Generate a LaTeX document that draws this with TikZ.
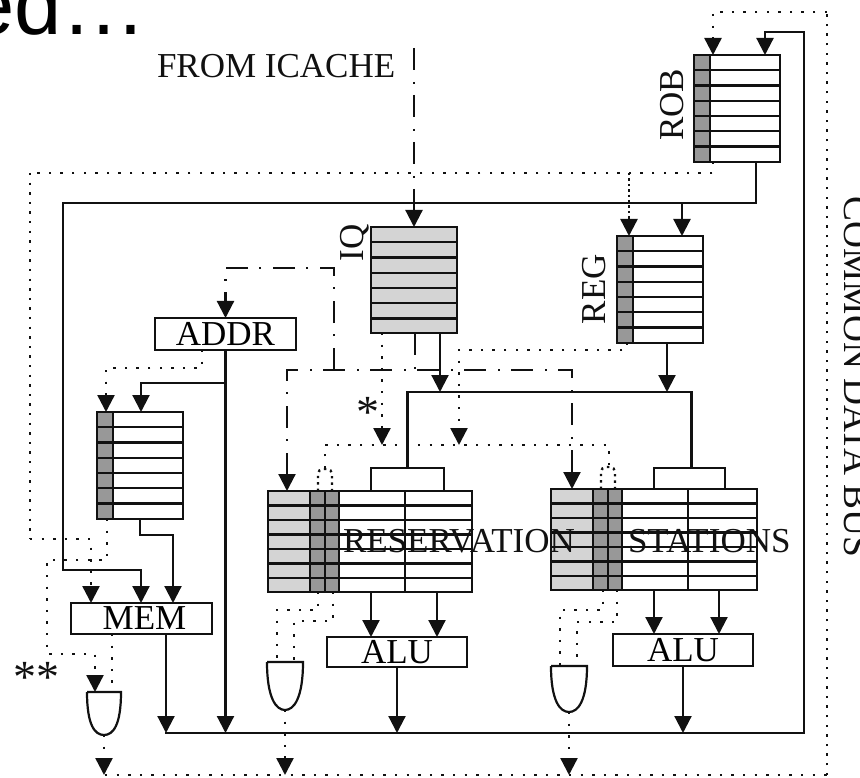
\documentclass[tikz,border=0pt]{standalone}
\usepackage{fontspec}
\setmainfont{Liberation Serif}
\newfontfamily\headfont{Liberation Sans}
\usepackage{xcolor}
\usetikzlibrary{arrows.meta,positioning,calc}
\definecolor{Ink}{HTML}{111111}
\definecolor{QueueGrey}{HTML}{D4D4D4}
\definecolor{TagGrey}{HTML}{989898}
\tikzset{
  unit/.style={draw=Ink,line width=2.2pt,fill=white,inner sep=0pt,outer sep=0pt},
  caption/.style={inner sep=0pt,outer sep=0pt,text=Ink,font=\fontsize{35}{40}\selectfont},
  gatebody/.style={inner sep=0pt,outer sep=0pt},
  wire/.style={Ink,line width=2.2pt},
  flow/.style={wire,->},
  dots/.style={Ink,line width=2.4pt,dash pattern=on 2.4pt off 9.2pt},
  tightdots/.style={Ink,line width=2.4pt,dash pattern=on 2.4pt off 7.2pt},
  dotflow/.style={dots,->},
  fetch/.style={Ink,line width=2.2pt,dash pattern=on 22pt off 12pt on 2pt off 11pt},
  fetchflow/.style={fetch,->},
}
\begin{document}
\begin{tikzpicture}[x=1pt,y=-1pt,>={Triangle[width=17pt,length=17pt]}]
  \useasboundingbox (0,0) rectangle (860,778);
  \node[anchor=base east,inner sep=0pt,font=\headfont\fontsize{85}{90}\selectfont] (heading) at (147,35) {ed…};

  % Registerblocks
  \node[unit,minimum width=86pt,minimum height=107pt] (rob) at (737,108.5) {};
  \node[unit,minimum width=86pt,minimum height=107pt] (reg) at (660,289.5) {};
  \node[unit,minimum width=86pt,minimum height=107pt] (membuf) at (140,465.5) {};
  \node[unit,fill=QueueGrey,minimum width=86pt,minimum height=106pt] (iq) at (414,280) {};
  \foreach \n in {rob,reg,membuf}
    \draw[unit,fill=TagGrey] (\n.north west) rectangle ($(\n.south west)+(16,0)$);
  \foreach \n in {rob,reg,membuf,iq}
    \foreach \i in {1,...,6}
      \draw[wire] ($(\n.north west)+(0,\i*15.25)$) -- ($(\n.north east)+(0,\i*15.25)$);

  \node[unit,minimum width=141pt,minimum height=32pt,font=\fontsize{35}{40}\selectfont] (addr) at (225.5,334) {ADDR};
  \node[unit,minimum width=141pt,minimum height=31pt,font=\fontsize{35}{40}\selectfont] (mem) at (141.5,618.5) {\hspace{6pt}MEM};

  % Reservierungsstationen
  \node[unit,minimum width=73pt,minimum height=23pt] (stuba) at (407.5,479.5) {};
  \node[unit,minimum width=71pt,minimum height=21pt] (stubb) at (689.5,478.5) {};
  \node[unit,minimum width=204pt,minimum height=101pt] (rsa) at (370,541.5) {};
  \node[unit,minimum width=206pt,minimum height=101pt] (rsb) at (654,539.5) {};
  \foreach \r in {rsa,rsb}{
    \draw[unit,fill=QueueGrey] (\r.north west) rectangle ($(\r.south west)+(42,0)$);
    \draw[unit,fill=TagGrey] ($(\r.north west)+(42,0)$) rectangle ($(\r.south west)+(57,0)$);
    \draw[unit,fill=TagGrey] ($(\r.north west)+(57,0)$) rectangle ($(\r.south west)+(71,0)$);
    \draw[wire] ($(\r.north west)+(137,0)$) -- ($(\r.south west)+(137,0)$);
    \foreach \i in {1,...,6}
      \draw[wire] ($(\r.north west)+(0,\i*14.5)$) -- ($(\r.north east)+(0,\i*14.5)$);
  }

  \node[unit,minimum width=140pt,minimum height=30pt,font=\fontsize{35}{40}\selectfont] (alua) at (397,652) {ALU};
  \node[unit,minimum width=140pt,minimum height=32pt,font=\fontsize{35}{40}\selectfont] (alub) at (683,650) {ALU};

  % Gatter
  \node[gatebody,minimum width=34pt,minimum height=43pt] (gatem) at (104,713.5) {};
  \node[gatebody,minimum width=36pt,minimum height=48pt] (gatea) at (285,686) {};
  \node[gatebody,minimum width=36pt,minimum height=46pt] (gateb) at (569,689) {};
  \foreach \g in {gatem,gatea,gateb}
    \draw[wire] (\g.north west) -- (\g.north east)
      .. controls ($(\g.east)+(0,12)$) and ($(\g.south)+(9,0)$) .. (\g.south)
      .. controls ($(\g.south)+(-9,0)$) and ($(\g.west)+(0,12)$) .. (\g.north west);

  % Sammelleitungen
  \coordinate (icache) at (414,48);
  \coordinate (decbus) at (430,370);
  \coordinate (addrbend) at (334,268);
  \coordinate (opbus) at (554,392);
  \coordinate (tagbus) at (460,445);
  \coordinate (resW) at (63,203);
  \coordinate (resS) at (63,570);
  \coordinate (cdbL) at (165,733);
  \coordinate (cdbR) at (804,733);
  \coordinate (cdbT) at (765,32);
  \coordinate (tagW) at (30,173);
  \coordinate (tagS) at (30,539);
  \coordinate (spW) at (47,560);
  \coordinate (spS) at (47,654);
  \coordinate (ringW) at (105,775);
  \coordinate (ringE) at (827,775);
  \coordinate (ringN) at (827,12);
  \coordinate (regdrop) at (459,350);

  \coordinate (robout) at ($(rob.south west)+(62,0)$);
  \coordinate (robin) at ($(rob.north west)+(71,0)$);
  \coordinate (robtagin) at ($(rob.north west)+(19,0)$);
  \coordinate (robtagout) at ($(rob.south west)+(19,0)$);
  \coordinate (regin) at ($(reg.north west)+(65,0)$);
  \coordinate (regout) at ($(reg.south west)+(50,0)$);
  \coordinate (regtagin) at ($(reg.north west)+(12,0)$);
  \coordinate (regtagout) at ($(reg.south west)+(10,0)$);
  \coordinate (iqout) at ($(iq.south west)+(69,0)$);
  \coordinate (iqdec) at ($(iq.south west)+(44,0)$);
  \coordinate (iqtag) at ($(iq.south west)+(11,0)$);
  \coordinate (memout) at ($(mem.south west)+(95,0)$);
  \coordinate (rsaop) at ($(rsa.north west)+(19,0)$);
  \coordinate (rsbop) at ($(rsb.north west)+(21,0)$);
  \coordinate (tagA) at ($(rsa.north west)+(57,-23)$);
  \coordinate (tagB) at ($(rsb.north west)+(58,-21)$);

  % Befehlspfad
  \draw[fetchflow] (icache) -- (iq.north);
  \draw[fetch] (iqdec) -- (iqdec |- decbus);
  \draw[fetch,<->] (rsaop) |- (decbus) -| (rsbop);
  \draw[fetchflow] (addrbend |- decbus) -- (addrbend) -| (addr.north);

  % Datenpfad
  \draw[wire] (stuba.north) |- (opbus) -| ($(stubb.north)+(2,0)$);
  \draw[flow] (iqout) -- (iqout |- opbus);
  \draw[flow] (regout) -- (regout |- opbus);
  \draw[flow] (robout) |- (resW) -- (resS) -| ($(mem.north west)+(70,0)$);
  \draw[flow] (regin |- resW) -- (regin);
  \draw[flow] (cdbL) -- (cdbR) |- (cdbT) -- (robin);
  \draw[flow] (addr.south) -- (addr.south |- cdbL);
  \draw[flow] ($(addr.south)+(0,33)$) -| ($(membuf.north)+(1,0)$);
  \draw[flow] (membuf.south) -- ++(0,16) -| ($(mem.north west)+(102,0)$);
  \draw[flow] (memout) -- (memout |- cdbL);
  \draw[flow] ($(rsa.south west)+(103,0)$) -- ($(alua.north west)+(44,0)$);
  \draw[flow] ($(rsa.south west)+(169,0)$) -- ($(alua.north west)+(110,0)$);
  \draw[flow] ($(rsb.south west)+(103,0)$) -- ($(alub.north west)+(41,0)$);
  \draw[flow] ($(rsb.south west)+(168,0)$) -- ($(alub.north west)+(106,0)$);
  \draw[flow] (alua.south) -- (alua.south |- cdbL);
  \draw[flow] (alub.south) -- (alub.south |- cdbL);

  % Tag-Leitungen
  \draw[dots] (ringW) -- (ringE);
  \draw[tightdots] (ringE) -- (ringN);
  \draw[dotflow] (ringN) -| (robtagin);
  \draw[dots] (robtagout) |- (tagW);
  \draw[tightdots] (tagW) -- (tagS);
  \draw[dotflow] (tagS) -| ($(mem.north west)+(20,0)$);
  \draw[dotflow,dash pattern=on 2.4pt off 3pt] (regtagin |- tagW) -- (regtagin);
  \draw[dotflow] (regtagout) |- (regdrop) -- (regdrop |- tagbus);
  \draw[dotflow] (iqtag) -- (iqtag |- tagbus);
  \draw[dots] (tagA) |- (tagbus) -| (tagB);
  \foreach \r in {rsa,rsb}
    \draw[dots,dash pattern=on 2.4pt off 4pt,rounded corners=5pt] ($(\r.north west)+(50,0)$) -- ++(0,-22) -- ++(14,0) -- ++(0,22);
  \draw[dots] ($(rsa.south west)+(50,0)$) -- ++(0,18) -| ($(gatea.north west)+(10,0)$);
  \draw[dots] ($(rsa.south west)+(65,0)$) -- ++(0,29) -| ($(gatea.north west)+(27,0)$);
  \draw[dots] ($(rsb.south west)+(52,0)$) -- ++(0,20) -| ($(gateb.north west)+(9,0)$);
  \draw[dots] ($(rsb.south west)+(66,0)$) -- ++(0,32) -| ($(gateb.north west)+(26,0)$);
  \draw[dotflow] (gatem.south) -- (gatem.south |- ringW);
  \draw[dotflow] (gatea.south) -- (gatea.south |- ringW);
  \draw[dotflow] (gateb.south) -- (gateb.south |- ringW);
  \draw[dotflow] ($(membuf.south west)+(10,0)$) |- (spW) -- (spS) -| ($(gatem.north west)+(8,0)$);
  \draw[dotflow] ($(addr.south west)+(47,0)$) -- ++(0,18) -| ($(membuf.north west)+(9,0)$);
  \draw[dots] ($(mem.south west)+(41,0)$) -- ($(gatem.north west)+(25,0)$);

  % Beschriftung
  \node[caption,anchor=base west] (fromicache) at (157,78) {FROM ICACHE};
  \node[caption,anchor=base,rotate=90] (lblrob) at (683,105) {ROB};
  \node[caption,anchor=base,rotate=90] (lblreg) at (605,289) {REG};
  \node[caption,anchor=base,rotate=90] (lbliq) at (363,243) {IQ};
  \node[caption,anchor=base,rotate=-90,font=\fontsize{37.4}{40}\selectfont] (lblcdb) at (844,377) {COMMON DATA BUS};
  \node[caption,anchor=base west] (lblrsa) at (343,552) {RESERVATION};
  \node[caption,anchor=base west] (lblrsb) at (628,552) {STATIONS};
  \node[caption,font=\fontsize{46}{50}\selectfont] (star) at (368,412) {*};
  \node[caption,font=\fontsize{46}{50}\selectfont] (dstar) at (36,677) {*\hspace{0pt}*};
\end{tikzpicture}
\end{document}
